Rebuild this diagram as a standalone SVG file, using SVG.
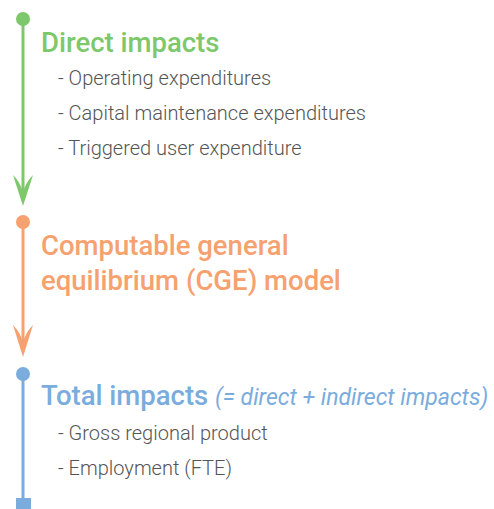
<svg xmlns="http://www.w3.org/2000/svg" width="494" height="509" viewBox="0 0 494 509">
<style>
.t{font-family:Roboto,"Liberation Sans",sans-serif;font-size:27.5px;font-weight:500}
.b{font-family:Roboto,"Liberation Sans",sans-serif;font-size:20px;font-weight:300;fill:#555}
.g{fill:#7dc86b}.o{fill:#f6a16f}.bl{fill:#7aacde}
.i{font-style:italic;font-weight:400;font-size:23px}
</style>
<rect width="494" height="509" fill="#fff"/>
<g id="connectors">
<line x1="23" y1="19" x2="23" y2="192" stroke="#7dc86b" stroke-width="3"/>
<path d="M13,175 Q20,182 23,192 Q26,182 33,175 L23,206 Z" fill="#7dc86b"/>
<line x1="23" y1="222" x2="23" y2="342" stroke="#f6a16f" stroke-width="3"/>
<path d="M13,325 Q20,332 23,342 Q26,332 33,325 L23,357 Z" fill="#f6a16f"/>
<line x1="23" y1="374" x2="23" y2="500" stroke="#7aacde" stroke-width="3"/>
</g>
<g id="direct">
<circle cx="23" cy="19" r="7" fill="#7dc86b"/>
<text class="t g" x="41" y="52">Direct impacts</text>
<text class="b" x="58" y="85">- Operating expenditures</text>
<text class="b" x="58" y="120">- Capital maintenance expenditures</text>
<text class="b" x="58" y="155">- Triggered user expenditure</text>
</g>
<g id="cge">
<circle cx="23" cy="222" r="7" fill="#f6a16f"/>
<text class="t o" x="41" y="255">Computable general</text>
<text class="t o" x="41" y="290">equilibrium (CGE) model</text>
</g>
<g id="total">
<circle cx="23" cy="374" r="7" fill="#7aacde"/>
<rect x="16" y="498" width="15" height="11" fill="#7aacde"/>
<text class="t bl" x="41" y="405">Total impacts <tspan class="i">(= direct + indirect impacts)</tspan></text>
<text class="b" x="58" y="440">- Gross regional product</text>
<text class="b" x="58" y="475">- Employment (FTE)</text>
</g>
</svg>
